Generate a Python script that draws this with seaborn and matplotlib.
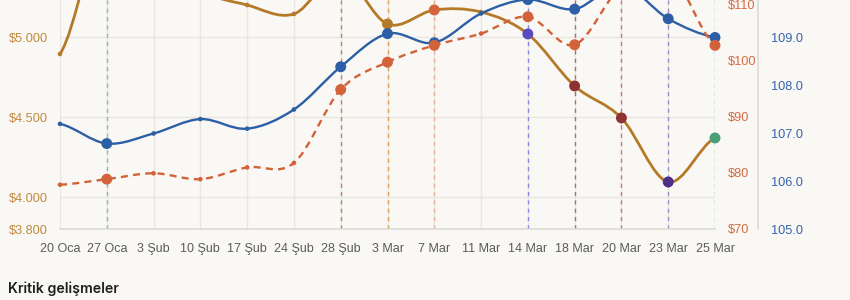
import numpy as np
import pandas as pd
import matplotlib
matplotlib.use("Agg")
import matplotlib.pyplot as plt
from matplotlib.path import Path
from matplotlib.patches import PathPatch
import seaborn as sns

# ---------------- data ----------------
dates = ["20 Oca", "27 Oca", "3 Şub", "10 Şub", "17 Şub", "24 Şub", "28 Şub",
         "3 Mar", "7 Mar", "11 Mar", "14 Mar", "18 Mar", "20 Mar", "23 Mar", "25 Mar"]
gold = [4894, 5760, 5610, 5300, 5200, 5144, 5390, 5081, 5169, 5156, 5019, 4694, 4494, 4094, 4369]
dxy = [107.19, 106.78, 106.99, 107.29, 107.09, 107.49, 108.38, 109.07, 108.88, 109.49,
       109.78, 109.58, 110.08, 109.38, 108.99]
oil = [77.9, 78.9, 79.95, 78.9, 81.0, 81.8, 94.9, 99.8, 102.8, 104.9, 107.9, 102.9,
       113.4, 116.1, 102.8]
event_dates = ["27 Oca", "28 Şub", "3 Mar", "7 Mar", "14 Mar", "18 Mar", "20 Mar", "23 Mar", "25 Mar"]
event_colors = ["#4a9e78", "#d4643c", "#b47a2c", "#d4643c", "#5a4cc0", "#8f3232", "#8f3232", "#4b2f8a", "#4a9e78"]
event_line_colors = ["#7fbfa6", "#d27a62", "#d4a05e", "#e9ae9c", "#8c84e4", "#b56a6a", "#cc7676", "#9c8fcc", "#6fb092"]
gold_ticks = [3800, 4000, 4500, 5000]
gold_tick_labels = ["$3.800", "$4.000", "$4.500", "$5.000"]
oil_ticks = [70, 80, 90, 100, 110]
oil_tick_labels = ["$70", "$80", "$90", "$100", "$110"]
dxy_ticks = [105, 106, 107, 108, 109]
dxy_tick_labels = ["105.0", "106.0", "107.0", "108.0", "109.0"]
section_title = "Kritik gelişmeler"

# ---------------- style ----------------
BG = "#f9f8f5"
GRID = "#e9e7e2"
GOLD = "#b57a28"
BLUE = "#2c5fa6"
ORANGE = "#d2623a"
GOLD_TXT = "#c08a3c"
ORANGE_TXT = "#d66a42"
BLUE_TXT = "#3563aa"

sns.set_theme(style="white")
plt.rcParams["font.family"] = ["Liberation Sans", "DejaVu Sans"]

W, H = 850, 300
fig = plt.figure(figsize=(8.5, 3), dpi=100, facecolor=BG)
ax = fig.add_axes([60 / W, 71 / H, 655 / W, 229 / H])
ax.set_facecolor(BG)
ax_b = ax.twinx()
ax_o = ax.twinx()
for a in (ax_b, ax_o):
    a.patch.set_visible(False)

x = np.arange(len(dates))
ax.set_xlim(0, len(dates) - 1)
ax.set_ylim(3800, 3800 + 229 / 0.16)
ax_o.set_ylim(70, 70 + 229 / 5.6)
ax_b.set_ylim(105, 105 + 229 / 48)

# grid
for xi in x:
    ax.axvline(xi, color=GRID, lw=1, zorder=0)
for t in gold_ticks[1:]:
    ax.axhline(t, color=GRID, lw=1, zorder=0)

for s in ["top", "right", "left"]:
    ax.spines[s].set_visible(False)
ax.spines["bottom"].set_color("#dcdad4")
ax.spines["bottom"].set_linewidth(1.2)
for s in ["top", "left", "bottom"]:
    ax_o.spines[s].set_visible(False)
    ax_b.spines[s].set_visible(False)
ax_o.spines["right"].set_visible(False)
ax_b.spines["right"].set_position(("outward", 43 * 0.72))
ax_b.spines["right"].set_color("#dedcd6")

ax.set_xticks(x)
ax.set_xticklabels(dates)
ax.tick_params(axis="x", length=6, width=1, color=GRID, pad=4, labelsize=9, labelcolor="#5b5b5b")
ax.set_yticks(gold_ticks)
ax.set_yticklabels(gold_tick_labels)
ax.tick_params(axis="y", length=0, pad=8.6, labelsize=9.2, labelcolor=GOLD_TXT)

ax_o.set_yticks(oil_ticks)
ax_o.set_yticklabels(oil_tick_labels)
ax_o.tick_params(axis="y", length=0, pad=9.4, labelsize=9.2, labelcolor=ORANGE_TXT)
ax_b.set_yticks(dxy_ticks)
ax_b.set_yticklabels(dxy_tick_labels)
ax_b.tick_params(axis="y", length=0, pad=9.4, labelsize=9.2, labelcolor=BLUE_TXT)
for a in (ax, ax_o, ax_b):
    a.set_xlabel("")
    a.set_ylabel("")

# event vertical lines
for d, c in zip(event_dates, event_line_colors):
    ax.axvline(dates.index(d), color=c, lw=1, ls=(0, (3, 3)), zorder=1)


def smooth_path(a, xs, ys, color, lw, ls="-", z=3):
    ys = np.asarray(ys, float)
    n = len(ys)
    m = np.empty(n)
    m[1:-1] = (ys[2:] - ys[:-2]) / 2
    m[0] = (ys[1] - ys[0]) / 2
    m[-1] = (ys[-1] - ys[-2]) / 2
    verts = [(xs[0], ys[0])]
    codes = [Path.MOVETO]
    for i in range(n - 1):
        verts += [(xs[i] + 1 / 3, ys[i] + m[i] / 3),
                  (xs[i + 1] - 1 / 3, ys[i + 1] - m[i + 1] / 3),
                  (xs[i + 1], ys[i + 1])]
        codes += [Path.CURVE4] * 3
    p = PathPatch(Path(verts, codes), facecolor="none", edgecolor=color, lw=lw,
                  ls=ls, zorder=z, clip_on=False, capstyle="butt")
    a.add_patch(p)


def markers(a, ys, series_color, event_cols=None, z=4):
    cols, kinds = [], []
    for i, d in enumerate(dates):
        if d in event_dates:
            kinds.append("big")
            cols.append(event_cols[event_dates.index(d)] if event_cols else series_color)
        else:
            kinds.append("small")
            cols.append(series_color)
    df = pd.DataFrame({"x": x, "y": ys, "c": cols, "k": kinds})
    sns.scatterplot(data=df, x="x", y="y", hue="c", palette={c: c for c in set(cols)},
                    size="k", sizes={"big": 62, "small": 11}, legend=False,
                    linewidth=0, ax=a, zorder=z, clip_on=False)


smooth_path(ax, x, gold, GOLD, 2.0)
markers(ax, gold, GOLD, event_colors)
smooth_path(ax_b, x, dxy, BLUE, 1.7)
markers(ax_b, dxy, BLUE)
smooth_path(ax_o, x, oil, ORANGE, 1.7, ls=(0, (3, 2.2)))
markers(ax_o, oil, ORANGE)

for a in (ax, ax_o, ax_b):
    a.set_xlabel("")
    a.set_ylabel("")
ax.set_xlim(0, len(dates) - 1)

fig.text(8 / W, 1 - 289 / H, section_title, ha="left", va="center", fontsize=10.2,
         fontweight="semibold", color="#1f1f1f", family=["Inter", "DejaVu Sans"])

fig.savefig("out.png", dpi=100, facecolor=BG)
